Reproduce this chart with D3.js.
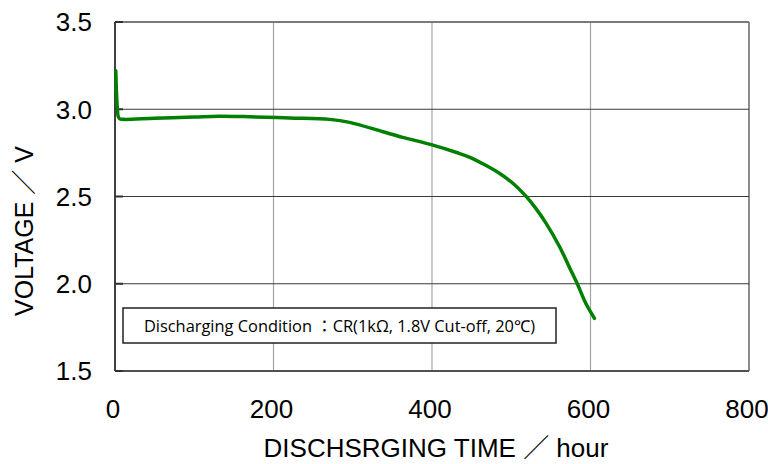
<!DOCTYPE html>
<html>
<head>
<meta charset="utf-8">
<script src="https://cdn.jsdelivr.net/npm/d3@7"></script>
<style>
  body { margin: 0; background: #fff; }
  svg { display: block; }
</style>
</head>
<body>
<div id="chart"></div>
<script>
// discharge curve
const hours = [1, 2, 3, 4, 6, 10, 50, 100, 130, 170, 220, 271, 296, 338, 363, 399, 431, 447, 466, 485, 502, 519, 531, 544, 561, 573, 584, 594, 605];
const volts = [3.22, 3.08, 3.0, 2.96, 2.945, 2.942, 2.948, 2.955, 2.96, 2.957, 2.95, 2.942, 2.925, 2.871, 2.839, 2.797, 2.752, 2.726, 2.683, 2.633, 2.576, 2.499, 2.432, 2.346, 2.212, 2.098, 1.993, 1.888, 1.802];
const xTicks = [0, 200, 400, 600, 800];
const yTicks = [1.5, 2.0, 2.5, 3.0, 3.5];
const note = "Discharging Condition\u00a0：CR(1kΩ, 1.8V Cut-off, 20℃)";

const W = 768, H = 464;
const margin = { top: 22, right: 19, bottom: 93, left: 115 };
const width = W - margin.left - margin.right;
const height = H - margin.top - margin.bottom;

const svg = d3.select("#chart").append("svg")
    .attr("width", W)
    .attr("height", H);

const g = svg.append("g")
    .attr("transform", `translate(${margin.left},${margin.top})`);

const x = d3.scaleLinear().domain([0, 800]).range([0, width]);
const y = d3.scaleLinear().domain([1.5, 3.5]).range([height, 0]);

// vertical grid (light gray)
g.selectAll(".vgrid")
    .data(xTicks.filter(d => d > 0))
    .enter().append("line")
    .attr("x1", d => x(d)).attr("x2", d => x(d))
    .attr("y1", 0).attr("y2", height)
    .attr("stroke", d => d === 800 ? "#8c8c8c" : "#a6a6a6")
    .attr("stroke-width", d => d === 800 ? 2 : 1.2);

// horizontal grid (dark)
g.selectAll(".hgrid")
    .data(yTicks.filter(d => d > 1.5))
    .enter().append("line")
    .attr("x1", 0).attr("x2", width)
    .attr("y1", d => y(d)).attr("y2", d => y(d))
    .attr("stroke", d => d === 3.5 ? "#7a7a7a" : "#3a3a3a")
    .attr("stroke-width", d => d === 3.5 ? 2 : 1.2);

// axes lines
g.append("line")
    .attr("x1", 0).attr("x2", 0).attr("y1", 0).attr("y2", height)
    .attr("stroke", "#404040").attr("stroke-width", 2);
g.append("line")
    .attr("x1", 0).attr("x2", width).attr("y1", height).attr("y2", height)
    .attr("stroke", "#505050").attr("stroke-width", 2);

// small inward ticks on y axis
g.selectAll(".ytick")
    .data(yTicks)
    .enter().append("line")
    .attr("x1", 0).attr("x2", 8)
    .attr("y1", d => y(d)).attr("y2", d => y(d))
    .attr("stroke", "#303030").attr("stroke-width", 2);

// tick labels
const tickFont = "'Liberation Sans', Arial, sans-serif";
g.selectAll(".ylab")
    .data(yTicks)
    .enter().append("text")
    .attr("x", -23)
    .attr("y", d => y(d))
    .attr("dy", "0.36em")
    .attr("text-anchor", "end")
    .attr("font-family", tickFont)
    .attr("font-size", 26)
    .attr("fill", "#000")
    .text(d => d.toFixed(1));

g.selectAll(".xlab")
    .data(xTicks)
    .enter().append("text")
    .attr("x", d => x(d) - 2)
    .attr("y", height + 47)
    .attr("text-anchor", "middle")
    .attr("font-family", tickFont)
    .attr("font-size", 26)
    .attr("fill", "#000")
    .text(d => d);

// axis titles
svg.append("text")
    .attr("x", 436)
    .attr("y", 457)
    .attr("text-anchor", "middle")
    .attr("font-family", "'Liberation Sans', 'Noto Sans CJK JP', sans-serif")
    .attr("font-size", 26)
    .attr("fill", "#000")
    .text("DISCHSRGING TIME ／ hour");

svg.append("text")
    .attr("transform", "translate(33,231) rotate(-90)")
    .attr("text-anchor", "middle")
    .attr("font-family", "'Liberation Sans', 'Noto Sans CJK JP', sans-serif")
    .attr("font-size", 25)
    .attr("fill", "#000")
    .text("VOLTAGE ／ V");

// condition box
const box = g.append("g").attr("transform", "translate(8,286)");
box.append("rect")
    .attr("width", 433).attr("height", 35)
    .attr("fill", "#fff")
    .attr("stroke", "#222").attr("stroke-width", 1.5);
box.append("text")
    .attr("x", 216.5).attr("y", 23.5)
    .attr("text-anchor", "middle")
    .attr("font-family", "'Open Sans', 'Noto Sans', 'Noto Sans CJK JP', sans-serif")
    .attr("font-size", 16.4)
    .attr("fill", "#000")
    .text(note);

// discharge curve
const pts = hours.map((h, i) => [h, volts[i]]);
const line = d3.line()
    .x(d => x(d[0]))
    .y(d => y(d[1]))
    .curve(d3.curveCatmullRom.alpha(0.5));

g.append("path")
    .datum(pts)
    .attr("d", line)
    .attr("fill", "none")
    .attr("stroke", "#008000")
    .attr("stroke-width", 3.5)
    .attr("stroke-linejoin", "round")
    .attr("stroke-linecap", "round");
</script>
</body>
</html>
